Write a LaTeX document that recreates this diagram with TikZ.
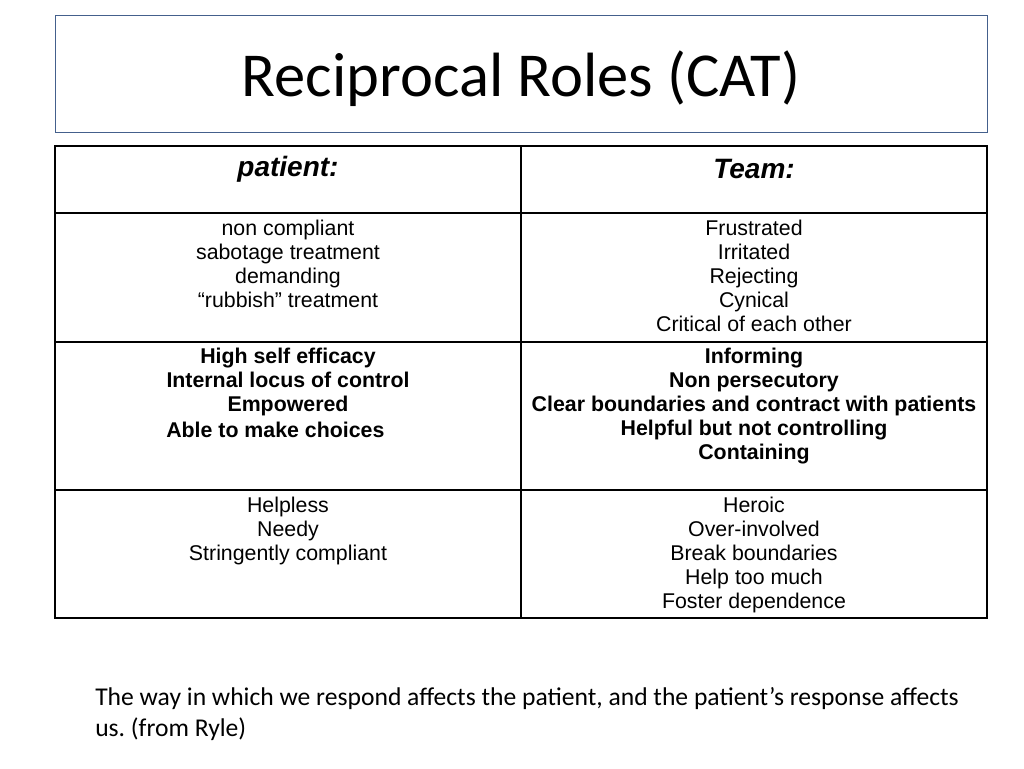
\documentclass[tikz,border=0pt]{standalone}
\usepackage{fontspec}
\setmainfont{Liberation Sans}
\newfontfamily\carlitofont{Carlito}
\frenchspacing
\begin{document}
\begin{tikzpicture}[x=0.75pt,y=-0.75pt,
 cell/.style={inner sep=0pt,anchor=north,align=center,font=\fontsize{16}{18}\selectfont},
 bcell/.style={cell,font=\fontsize{16}{18}\selectfont\bfseries},
 hd/.style={inner sep=0pt,font=\fontsize{21}{24}\selectfont\bfseries\itshape}]
\useasboundingbox (0,0) rectangle (1024,768);
\draw[draw={rgb,255:red,68;green,96;blue,140},line width=0.7pt] (55,15) rectangle (987,132);
\node[font=\carlitofont\fontsize{46.9}{50}\selectfont] (title) at (521,79) {Reciprocal Roles (CAT)};
\draw[line width=0.8pt] (55,146) rectangle (987,618);
\foreach \y in {213,342,490} \draw[line width=0.8pt] (55,\y) -- (987,\y);
\draw[line width=0.8pt] (521,146) -- (521,618);
\node[hd] (h1) at (288,169) {patient:};
\node[hd] (h2) at (754,169) {Team:};
\node[cell] (p1) at (288,220) {non compliant\\sabotage treatment\\demanding\\“rubbish” treatment};
\node[cell] (t1) at (754,220) {Frustrated\\Irritated\\Rejecting\\Cynical\\Critical of each other};
\node[bcell] (p2) at (288,348) {High self efficacy\\Internal locus of control\\Empowered};
\node[inner sep=0pt,anchor=west,font=\fontsize{16}{18}\selectfont\bfseries] (p2b) at (166,430) {Able to make choices};
\node[bcell] (t2) at (754,348) {Informing\\Non persecutory\\Clear boundaries and contract with patients\\Helpful but not controlling\\Containing};
\node[cell] (p3) at (288,497) {Helpless\\Needy\\Stringently compliant};
\node[cell] (t3) at (754,497) {Heroic\\Over-involved\\Break boundaries\\Help too much\\Foster dependence};
\node[inner sep=0pt,anchor=north west,align=left,font=\carlitofont\fontsize{19.2}{23.2}\selectfont] (foot) at (95,687) {The way in which we respond affects the patient, and the patient’s response affects\\us. (from Ryle)};
\end{tikzpicture}
\end{document}
